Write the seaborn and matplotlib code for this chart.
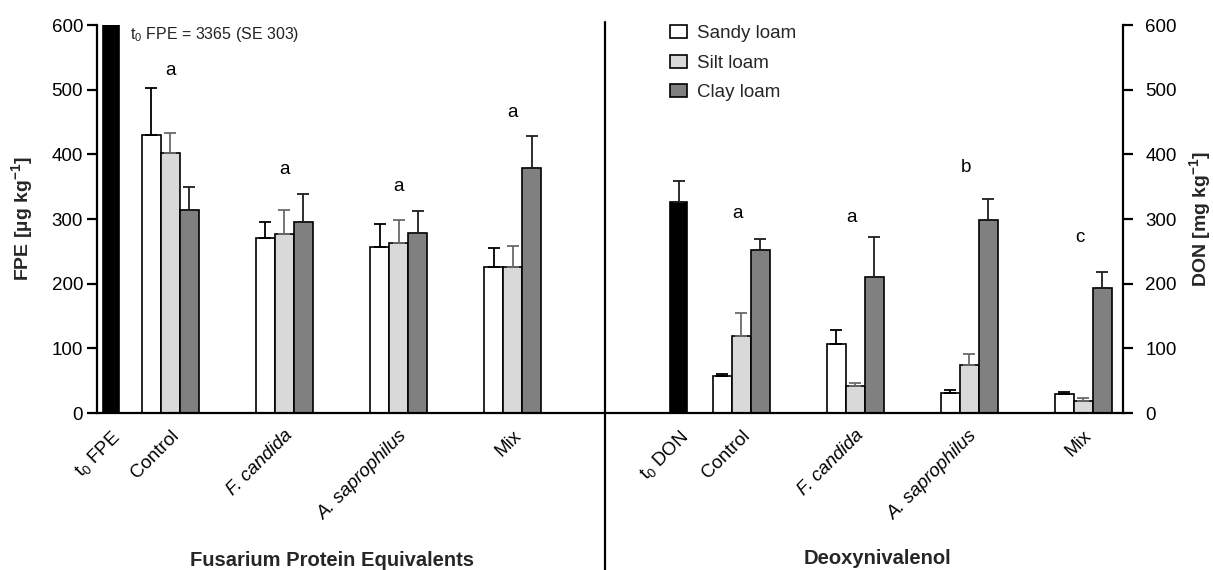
import numpy as np
import pandas as pd
import matplotlib
matplotlib.use("Agg")
import matplotlib.pyplot as plt
import seaborn as sns
from matplotlib.lines import Line2D
from matplotlib.patches import Patch

# ---------------------------------------------------------------- data
treatments = ["Control", "F. candida", "A. saprophilus", "Mix"]
soils = ["Sandy loam", "Silt loam", "Clay loam"]

# Fusarium protein equivalents [µg kg-1], mean and standard error
fpe_sandy = [430, 270, 257, 226]
fpe_silt = [402, 277, 263, 226]
fpe_clay = [314, 295, 279, 379]
fpe_sandy_se = [72, 26, 35, 29]
fpe_silt_se = [31, 37, 35, 32]
fpe_clay_se = [36, 43, 34, 49]
t0_fpe = 3365
t0_fpe_se = 303
fpe_letters = ["a", "a", "a", "a"]

# Deoxynivalenol [mg kg-1], mean and standard error
don_sandy = [57, 107, 31, 29]
don_silt = [119, 41, 75, 18]
don_clay = [252, 211, 298, 193]
don_sandy_se = [4, 22, 5, 3]
don_silt_se = [35, 6, 17, 5]
don_clay_se = [17, 61, 33, 25]
t0_don = 327
t0_don_se = 31
don_letters = ["a", "a", "b", "c"]

# ---------------------------------------------------------------- style
sns.set_theme(style="white")
plt.rcParams["font.family"] = ["Liberation Sans", "DejaVu Sans"]
plt.rcParams["mathtext.fontset"] = "custom"
plt.rcParams["mathtext.rm"] = "Liberation Sans"
plt.rcParams["mathtext.it"] = "Liberation Sans:italic"
plt.rcParams["mathtext.bf"] = "Liberation Sans:bold"

soil_colors = ["#ffffff", "#d9d9d9", "#808080"]
err_colors = ["#000000", "#6a6a6a", "#1e1e1e"]
italic_labels = {"F. candida", "A. saprophilus"}

W, H = 1213, 570
fig = plt.figure(figsize=(W / 100, H / 100), dpi=100)
fig.patch.set_facecolor("white")

# panel geometry (pixels)
y0_px, top_px = 413, 25
ax1 = fig.add_axes([97 / W, (H - y0_px) / H, 508 / W, (y0_px - top_px) / H])
ax2 = fig.add_axes([605 / W, (H - y0_px) / H, 518 / W, (y0_px - top_px) / H])

group_pos = [1, 2, 3, 4]


def draw_panel(ax, sandy, silt, clay, sandy_se, silt_se, clay_se,
               t0_val, t0_se, t0_pos, t0_label, show_t0_err):
    rows = []
    for soil, vals in zip(soils, [sandy, silt, clay]):
        for p, v in zip(group_pos, vals):
            rows.append({"pos": p, "soil": soil, "value": v})
    df = pd.DataFrame(rows)
    sns.barplot(data=df, x="pos", y="value", hue="soil", hue_order=soils,
                palette=soil_colors, native_scale=True, width=0.5,
                errorbar=None, edgecolor="black", linewidth=1.2,
                saturation=1, legend=False, ax=ax, zorder=2)
    # upward standard-error bars on every soil bar
    for cont, se, ec in zip(ax.containers[:3], [sandy_se, silt_se, clay_se],
                            err_colors):
        xs = [p.get_x() + p.get_width() / 2 for p in cont]
        ys = [p.get_height() for p in cont]
        ax.errorbar(xs, ys, yerr=[np.zeros(len(se)), se], fmt="none",
                    ecolor=ec, elinewidth=1.3, capsize=4, capthick=1.3,
                    zorder=3)
    t0_df = pd.DataFrame({"pos": [t0_pos], "value": [t0_val]})
    sns.barplot(data=t0_df, x="pos", y="value", native_scale=True,
                width=0.145, color="black", edgecolor="black", linewidth=1.2,
                saturation=1, errorbar=None, ax=ax, zorder=2)
    if show_t0_err:
        cont = ax.containers[-1]
        p = cont[0]
        ax.errorbar([p.get_x() + p.get_width() / 2], [p.get_height()],
                    yerr=[[0], [t0_se]], fmt="none", ecolor="#1e1e1e",
                    elinewidth=1.3, capsize=4, capthick=1.3, zorder=3)

    ax.set_ylim(0, 600)
    ax.set_yticks(range(0, 601, 100))
    ax.set_xticks([t0_pos] + group_pos)
    ax.set_xticklabels([t0_label] + treatments, rotation=45, ha="right",
                       rotation_mode="anchor", fontsize=13.5)
    for lbl in ax.get_xticklabels():
        if lbl.get_text() in italic_labels:
            lbl.set_fontstyle("italic")
    ax.tick_params(axis="x", length=0, pad=10, colors="black")
    ax.set_xlabel("")
    ax.set_ylabel("")
    ax.set_facecolor("none")
    for s in ax.spines.values():
        s.set_color("black")
        s.set_linewidth(1.6)
    ax.spines["top"].set_visible(False)


draw_panel(ax1, fpe_sandy, fpe_silt, fpe_clay, fpe_sandy_se, fpe_silt_se,
           fpe_clay_se, t0_fpe, t0_fpe_se, 0.482, "t$_0$ FPE", False)
draw_panel(ax2, don_sandy, don_silt, don_clay, don_sandy_se, don_silt_se,
           don_clay_se, t0_don, t0_don_se, 0.452, "t$_0$ DON", True)

# left panel axis
ax1.set_xlim(0.36, 4.806)
ax1.spines["right"].set_visible(False)
ax1.tick_params(axis="y", direction="out", length=7, width=1.6,
                labelsize=13.5, pad=3, colors="black", left=True)
ax1.set_ylabel("FPE [µg kg$^{\\mathbf{-1}}$]", fontsize=14, fontweight="bold")
ax1.yaxis.set_label_coords(-0.122, 0.5)

# right panel axis
ax2.set_xlim(-0.193, 4.35)
ax2.spines["left"].set_visible(False)
ax2.yaxis.tick_right()
ax2.yaxis.set_label_position("right")
ax2.tick_params(axis="y", direction="out", length=7, width=1.6,
                labelsize=13.5, pad=9, colors="black", right=True, left=False)
ax2.set_ylabel("DON [mg kg$^{\\mathbf{-1}}$]", fontsize=14, fontweight="bold")
ax2.yaxis.set_label_coords(1.124, 0.5)

# significance letters above each treatment group
fpe_letter_y = [530, 376, 351, 464]
don_letter_y = [308, 303, 380, 271]
for p, letter, y in zip(group_pos, fpe_letters, fpe_letter_y):
    ax1.text(p, y, letter, ha="center", va="center", fontsize=13.5,
             color="black")
for p, letter, y in zip(group_pos, don_letters, don_letter_y):
    ax2.text(p - 0.03, y, letter, ha="center", va="center", fontsize=13.5,
             color="black")

# off-scale initial FPE value
ax1.text(0.649, 585, f"t$_0$ FPE = {t0_fpe} (SE {t0_fpe_se})",
         ha="left", va="center", fontsize=11.5, color="#222222")

# legend
handles = [Patch(facecolor=c, edgecolor="black", linewidth=1.2)
           for c in soil_colors]
ax2.legend(handles, soils, loc="upper left",
           bbox_to_anchor=((670 - 605) / 518, (413 - 25) / 388),
           frameon=False, fontsize=13.5, handlelength=0.9, handleheight=0.7,
           handletextpad=0.53, labelspacing=0.66, borderpad=0,
           borderaxespad=0)

# divider between the two panels
fig.add_artist(Line2D([605 / W, 605 / W], [0, (H - 22) / H], color="black",
                      linewidth=1.6, transform=fig.transFigure))

# panel titles
fig.text(332 / W, (H - 561) / H, "Fusarium Protein Equivalents",
         ha="center", va="center", fontsize=14.5, fontweight="bold")
fig.text(877 / W, (H - 559) / H, "Deoxynivalenol",
         ha="center", va="center", fontsize=14.5, fontweight="bold")

fig.savefig("out.png", dpi=100, facecolor="white")
